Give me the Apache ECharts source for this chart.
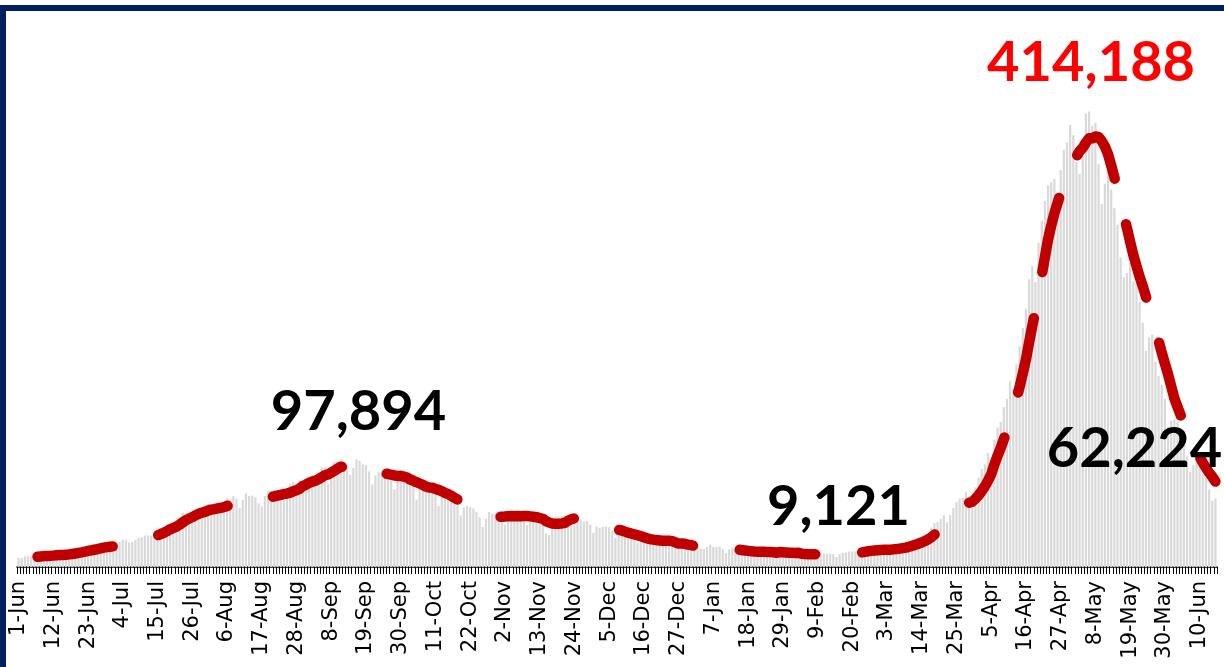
<!DOCTYPE html>
<html>
<head>
<meta charset="utf-8">
<script src="https://cdn.jsdelivr.net/npm/echarts@6/dist/echarts.min.js"></script>
<style>
html,body{margin:0;padding:0;background:#fff;}
#chart{width:1224px;height:667px;}
</style>
</head>
<body>
<div id="chart"></div>
<script>
// Daily new cases, 1-Jun-2020 .. 15-Jun-2021
const startDate = [2020, 5, 1]; // year, monthIndex, day
const jun20 = [8392,8171,9633,9851,9887,9971,9983,9987,9985,9996,10956,11458,11929,11502,10667,10974,12881,13586,14516,15413,14821,14933,15968,16922,17296,18552,19906,19459,18522,18653];
const jul20 = [19148,20903,22771,24850,24248,22252,22752,24879,26506,27114,28637,28701,28498,29429,32695,34956,34884,38902,40425,37148,37724,45720,49310,48916,48661,49931,47703,48513,52123,55079,57118];
const aug20 = [54736,52972,52050,52509,56282,62538,61537,64399,62064,53601,60963,66999,64553,65002,63490,57981,55079,64531,69652,68898,69878,69239,61408,60975,67151,75760,77266,76472,78761,78512,69921];
const sep20 = [78357,83883,83341,86432,90632,90802,75809,89706,95735,96551,97570,94372,92071,83809,90123,97894,96424,93337,92605,86961,75083,83347,86508,86052,85362,88600,82170,70589,80472,86821];
const oct20 = [81484,79476,75829,74442,61267,72049,78524,70496,73272,74383,66732,55342,63509,67708,63371,62212,61871,55722,46790,54044,55839,54366,53370,50129,45149,36470,43893,49881,48648,48268,46963];
const nov20 = [45231,38310,46253,50210,47638,50357,45674,45903,38073,44281,47905,44879,44878,41100,30548,29164,38617,45576,45882,46232,45209,44059,37975,44376,44489,43082,41322,41810,38772,31118];
const dec20 = [36604,35551,36595,36652,36011,32981,26567,32080,31521,29398,30006,30254,27071,22065,26382,24010,22890,25153,26624,24337,19556,23950,24712,23067,22272,18732,16432,20549,21821,20035,19079];
const jan21 = [18177,18088,16505,16375,18088,20346,18139,18222,18645,16311,12584,15968,16946,15590,15158,15144,13788,10064,13823,15223,14545,14256,14849,13203,9502,12689,11666,18855,13083,13052,11427];
const feb21 = [9635,11039,12899,12408,11713,12059,11831,9310,11067,12923,12143,12194,12194,11649,9121,11610,12881,13193,13993,14264,14199,10584,13742,16738,16577,16488,16752,15510];
const mar21 = [12286,14989,17407,16838,18327,18711,18599,15388,17921,22854,23285,24882,25320,26291,24492,28903,35871,39726,40953,43846,46951,40715,47262,53476,59118,62258,62714,68020,56211,53480,72330];
const apr21 = [81466,89129,93249,103558,96982,115736,126789,131968,145384,152879,168912,161736,184372,200739,217353,234692,261500,273810,259170,295041,314835,332730,346786,349691,352991,323144,360960,379257,386452,401993];
const may21 = [392488,368147,357229,382315,412262,414188,401078,403738,366161,329942,348421,362727,343144,326098,311170,281386,263533,267334,276110,259551,257299,240842,222315,196427,208921,211298,186364,173790,165553,152734,127510];
const jun21 = [132788,134154,132364,120529,114460,100636,86498,92596,94052,91702,84332,80834,70421,60471,62224];

const dailyCases = [].concat(jun20, jul20, aug20, sep20, oct20, nov20, dec20, jan21, feb21, mar21, apr21, may21, jun21);

// Annotated values
const annotations = [
  {label: '97,894', value: 97894, dx: 2, dy: -47, color: '#000000'},
  {label: '414,188', value: 414188, dx: 2, dy: -48, color: '#FF0000'},
  {label: '9,121', value: 9121, dx: 2, dy: -50, color: '#000000'},
  {label: '62,224', value: 62224, dx: -81, dy: -50, color: '#000000'}
];

const monthNames = ['Jan','Feb','Mar','Apr','May','Jun','Jul','Aug','Sep','Oct','Nov','Dec'];
const categories = dailyCases.map((v, i) => {
  const d = new Date(Date.UTC(startDate[0], startDate[1], startDate[2] + i));
  return d.getUTCDate() + '-' + monthNames[d.getUTCMonth()];
});

// 7-day trailing moving average (trendline)
const movingAvg = dailyCases.map((v, i) => {
  if (i < 6) return null;
  let s = 0;
  for (let k = i - 6; k <= i; k++) s += dailyCases[k];
  return s / 7;
});

function idxOf(val) { return dailyCases.lastIndexOf(val); }

const markData = annotations.map(a => ({
  coord: [categories[idxOf(a.value)], a.value],
  value: a.value,
  label: {
    show: true,
    formatter: a.label,
    position: 'inside',
    offset: [a.dx, a.dy],
    color: a.color,
    fontFamily: 'Lato',
    fontWeight: 'bold',
    fontSize: 56
  }
}));

const chart = echarts.init(document.getElementById('chart'), null, {renderer: 'canvas'});
chart.setOption({
  animation: false,
  backgroundColor: '#ffffff',
  grid: {left: 17, right: 7, top: 17, bottom: 100, containLabel: false},
  xAxis: {
    type: 'category',
    data: categories,
    boundaryGap: true,
    axisLine: {show: true, lineStyle: {color: '#000000', width: 1.5}},
    axisTick: {show: true, interval: 0, length: 7, lineStyle: {color: '#000000', width: 1}},
    axisLabel: {
      interval: 10,
      rotate: 90,
      margin: 14,
      color: '#000000',
      fontFamily: 'DejaVu Sans',
      fontSize: 21
    }
  },
  yAxis: {
    type: 'value',
    min: 0,
    max: 500000,
    show: false,
    splitLine: {show: false}
  },
  series: [
    {
      type: 'bar',
      data: dailyCases,
      barCategoryGap: '30%',
      itemStyle: {color: '#D9D9D9'},
      silent: true,
      markPoint: {
        symbol: 'circle',
        symbolSize: 0,
        silent: true,
        data: markData
      }
    },
    {
      type: 'line',
      data: movingAvg,
      showSymbol: false,
      smooth: false,
      connectNulls: false,
      silent: true,
      lineStyle: {color: '#C00000', width: 10.5, type: [76, 47], cap: 'round', join: 'round'}
    }
  ],
  graphic: [
    {
      type: 'rect',
      silent: true,
      z: 100,
      shape: {x: 3, y: 8, width: 1400, height: 900},
      style: {fill: null, stroke: '#002060', lineWidth: 6}
    }
  ]
});
</script>
</body>
</html>
